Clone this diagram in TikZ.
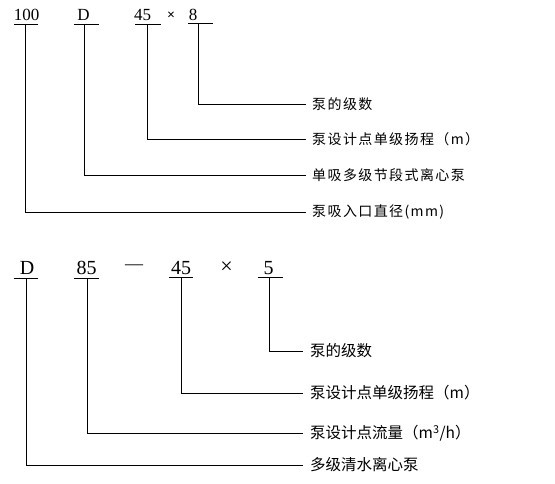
\documentclass[tikz,border=0pt]{standalone}
\usepackage{fontspec}
\setmainfont{Liberation Serif}
\newfontfamily\cjk{Noto Sans CJK SC}
\newfontfamily\cjksp[LetterSpace=10]{Noto Sans CJK SC}
\begin{document}
\begin{tikzpicture}[x=1pt,y=-1pt,
  num/.style={font=\fontsize{17}{17}\selectfont, inner sep=0pt, anchor=base},
  numb/.style={font=\fontsize{20}{20}\selectfont, inner sep=0pt, anchor=base},
  lab/.style={anchor=west, inner xsep=6pt, inner ysep=0pt, font=\cjksp\fontsize{14}{14}\selectfont},
  labb/.style={anchor=west, inner xsep=7pt, inner ysep=0pt, font=\cjk\fontsize{15.5}{15.5}\selectfont},
  ln/.style={line width=1pt}]
\useasboundingbox (0,0) rectangle (555,483);
% ---------- top ----------
\node[num] (a1) at (26.5,20.5) {100};
\node[num] (a2) at (83.5,20.5) {D};
\node[num] (a3) at (142.5,20.5) {45};
\node[font=\bfseries\fontsize{14}{14}\selectfont, inner sep=0pt] (ax) at (171,16) {×};
\node[num] (a4) at (193,20) {8};
\coordinate (u1) at (25,24);
\coordinate (u2) at (84,24);
\coordinate (u3) at (147,24);
\coordinate (u4) at (198,23);
\draw[ln] (14,24) -- (38,24);
\draw[ln] (74,24) -- (99,24);
\draw[ln] (135,24) -- (161,24);
\draw[ln] (188,23) -- (213,23);
\node[lab] (l4) at (306,104) {泵的级数};
\node[lab] (l3) at (306,139) {泵设计点单级扬程（m）};
\node[lab] (l2) at (306,175) {单吸多级节段式离心泵};
\node[lab] (l1) at (306,212) {泵吸入口直径(mm)};
\draw[ln] (u1) |- (l1.west);
\draw[ln] (u2) |- (l2.west);
\draw[ln] (u3) |- (l3.west);
\draw[ln] (u4) |- (l4.west);
% ---------- bottom ----------
\node[numb] (b1) at (27,274.5) {D};
\node[numb] (b2) at (86.5,274.5) {85};
\node[font=\fontsize{18}{18}\selectfont, inner sep=0pt] (bd) at (134,267) {—};
\node[numb] (b3) at (181,274.5) {45};
\node[font=\fontsize{22}{22}\selectfont, inner sep=0pt] (bx) at (226.5,268) {×};
\node[numb] (b4) at (268.5,274) {5};
\coordinate (v1) at (26,278);
\coordinate (v2) at (87,278);
\coordinate (v3) at (181,277);
\coordinate (v4) at (269,277);
\draw[ln] (14,278) -- (38,278);
\draw[ln] (74,278) -- (99,278);
\draw[ln] (169,277) -- (193,277);
\draw[ln] (258,277) -- (283,277);
\node[labb] (m4) at (303,351) {泵的级数};
\node[labb] (m3) at (303,393) {泵设计点单级扬程（m）};
\node[labb] (m2) at (303,433) {泵设计点流量（m\textsuperscript{3}/h）};
\node[labb] (m1) at (303,465) {多级清水离心泵};
\draw[ln] (v1) |- (m1.west);
\draw[ln] (v2) |- (m2.west);
\draw[ln] (v3) |- (m3.west);
\draw[ln] (v4) |- (m4.west);
\end{tikzpicture}
\end{document}
